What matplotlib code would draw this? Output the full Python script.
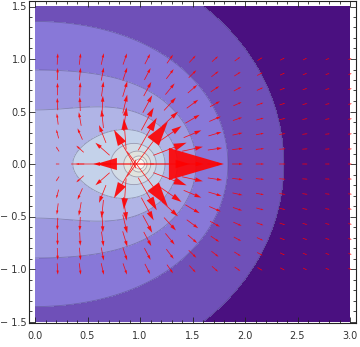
import numpy as np
import matplotlib
matplotlib.use("Agg")
import matplotlib.pyplot as plt
from matplotlib.colors import ListedColormap, BoundaryNorm
from matplotlib.ticker import MultipleLocator, FuncFormatter

# ---- data / parameters ----
ring_radius = 1.0                      # charged ring (rho, z) plane, ring at rho=1, z=0
x_range = [0.0, 3.0]
y_range = [-1.5, 1.5]
contour_levels = [0.443, 0.593, 0.745, 0.889, 1.035, 1.19, 1.335, 1.485, 1.635]
region_colors = ["#4a1080", "#6f50b8", "#8878d8", "#9d98e0", "#b0b4e6",
                 "#c4d2ea", "#d3dce6", "#e1e4de", "#edede3", "#f9f9f2"]
arrow_x = [3 * j / 14 for j in range(1, 15)]
arrow_y = [k / 7 for k in range(-7, 8)]
x_ticks = [0.0, 0.5, 1.0, 1.5, 2.0, 2.5, 3.0]
y_ticks = [-1.5, -1.0, -0.5, 0.0, 0.5, 1.0, 1.5]


def ellip_k(m):
    a = np.ones_like(m)
    b = np.sqrt(1.0 - m)
    for _ in range(40):
        a, b = 0.5 * (a + b), np.sqrt(a * b)
    return np.pi / (2.0 * a)


def potential(rho, z):
    rho = np.abs(rho)
    s = (rho + ring_radius) ** 2 + z ** 2
    m = np.clip(4 * ring_radius * rho / s, 0.0, 1 - 1e-16)
    return (2 / np.pi) * ellip_k(m) / np.sqrt(s)


def field(rho, z, h=1e-5):
    ex = -(potential(rho + h, z) - potential(rho - h, z)) / (2 * h)
    ez = -(potential(rho, z + h) - potential(rho, z - h)) / (2 * h)
    return ex, ez


fig = plt.figure(figsize=(3.6, 3.47), dpi=100)
ax = fig.add_axes([29 / 360, 1 - 323 / 347, (356 - 29) / 360, (323 - 1) / 347])

gx = np.linspace(x_range[0], x_range[1], 601)
gy = np.linspace(y_range[0], y_range[1], 601)
X, Y = np.meshgrid(gx, gy)
V = potential(X, Y)

bounds = [-1e9] + contour_levels + [1e9]
cmap = ListedColormap(region_colors)
norm = BoundaryNorm(bounds, cmap.N)
ax.contourf(X, Y, V, levels=bounds, cmap=cmap, norm=norm, zorder=0)
ax.contour(X, Y, V, levels=contour_levels, colors=[(0.3, 0.28, 0.45)],
           linewidths=0.6, alpha=0.45, zorder=1)

scale = 0.3
for xa in arrow_x:
    for ya in arrow_y:
        ex, ez = field(np.array(xa), np.array(ya))
        mag = float(np.hypot(ex, ez))
        L = scale * mag
        ux, uz = ex / mag, ez / mag
        ax.arrow(xa - 0.5 * L * ux, ya - 0.5 * L * uz, L * ux, L * uz,
                 width=0.007, head_width=max(0.21 * L, 0.012),
                 head_length=0.36 * L, length_includes_head=True,
                 color="#ff0000", lw=0, alpha=0.9, zorder=2)

ax.set_xlim(x_range[0] - 6 / 105, x_range[1] + 6 / 105)
ax.set_ylim(y_range[0] - 1.5 / 105, y_range[1] + 5.5 / 105)
ax.set_xticks(x_ticks)
ax.set_yticks(y_ticks)
ax.xaxis.set_minor_locator(MultipleLocator(0.1))
ax.yaxis.set_minor_locator(MultipleLocator(0.1))
fmt = FuncFormatter(lambda v, p: ("\u2212 " if v < -1e-9 else "") + f"{abs(v):.1f}")
ax.xaxis.set_major_formatter(fmt)
ax.yaxis.set_major_formatter(fmt)
ax.tick_params(which="both", direction="in", top=True, right=True,
               width=0.6, colors="#222222", labelcolor="#333333", labelsize=7)
ax.tick_params(which="major", length=4)
ax.tick_params(which="minor", length=2.3)
ax.tick_params(axis="y", pad=1.5)
ax.tick_params(axis="x", pad=6)
for sp in ax.spines.values():
    sp.set_linewidth(0.8)
    sp.set_color("#222222")

fig.savefig("out.png", dpi=100)
